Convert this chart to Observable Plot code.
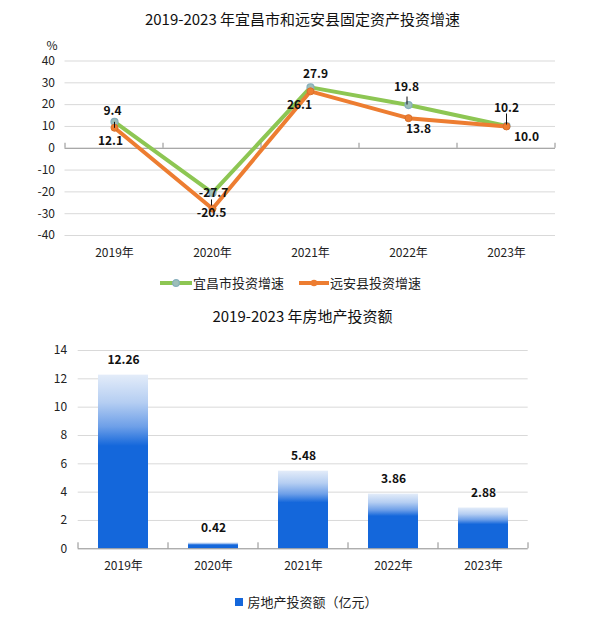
<!DOCTYPE html>
<html><head><meta charset="utf-8">
<script src="https://cdn.jsdelivr.net/npm/d3@7"></script>
<script src="https://cdn.jsdelivr.net/npm/@observablehq/plot@0.6"></script>
<style>
body{margin:0;background:#fff;}
#root{position:relative;width:605px;height:628px;font-family:'Noto Sans CJK SC','Noto Sans',sans-serif;color:#222;overflow:hidden;background:#fff}
.title{position:absolute;left:0;width:605px;text-align:center;font-size:15px;line-height:20px;color:#111}
.legend{position:absolute;font-size:13px;line-height:18px;display:flex;align-items:center;color:#222;white-space:nowrap}
.chart{position:absolute;left:0}
</style></head>
<body><div id="root"></div>
<script>
// ---- data ----
const years = ["2019年", "2020年", "2021年", "2022年", "2023年"];
const yichang = [12.1, -20.5, 27.9, 19.8, 10.2];          // 宜昌市投资增速
const yuanan = [9.4, -27.7, 26.1, 13.8, 10.0];            // 远安县投资增速
const yichangLabels = ["9.4", "-27.7", "27.9", "19.8", "10.2"];
const yuananLabels = ["12.1", "-20.5", "26.1", "13.8", "10.0"];
const yTicksTop = [-40, -30, -20, -10, 0, 10, 20, 30, 40];
const realEstate = [12.26, 0.42, 5.48, 3.86, 2.88];       // 房地产投资额（亿元）
const realEstateLabels = ["12.26", "0.42", "5.48", "3.86", "2.88"];
const yTicksBottom = [0, 2, 4, 6, 8, 10, 12, 14];
const topTitle = "2019-2023 年宜昌市和远安县固定资产投资增速";
const bottomTitle = "2019-2023 年房地产投资额";
const seriesNames = ["宜昌市投资增速", "远安县投资增速"];
const barName = "房地产投资额（亿元）";

const green = "#8dc653", orange = "#ed7d31", blue = "#1467db";
const font = "'Noto Sans CJK SC','Noto Sans',sans-serif";
const root = document.getElementById("root");

function addDiv(cls, text, css) {
  const d = document.createElement("div");
  d.className = cls; if (text) d.textContent = text;
  Object.assign(d.style, css); root.appendChild(d); return d;
}

function addBoundaryTicks(chart, len) {
  const sx = chart.scale("x"), sy = chart.scale("y");
  const dom = sx.domain; const bw = sx.bandwidth || 0;
  const centers = dom.map(d => sx.apply(d) + bw / 2);
  const step = centers[1] - centers[0];
  const bounds = [centers[0] - step / 2, ...centers.map(c => c + step / 2)];
  const y0 = sy.apply(0);
  d3.select(chart).append("g").attr("stroke", "#8c8c8c").attr("stroke-width", 1)
    .selectAll("line").data(bounds).join("line")
    .attr("x1", d => d).attr("x2", d => d).attr("y1", y0).attr("y2", y0 - len);
}

// ---- top chart ----
addDiv("title", topTitle, {top: "9px"});
const topRows = years.map((y, i) => ({year: y, yc: yichang[i], ya: yuanan[i], lc: yichangLabels[i], la: yuananLabels[i]}));
const gOff = [[-2, -11], [1, 0], [5, -13], [-2, -18], [0, -18]];
const oOff = [[-4, 13], [-1, 4], [-11, 14], [10, 11], [20, 11]];
const leader = [[0, 3, 3], [-1, 9.5, 3], [-1.5, -4.5, 4], [0, -7, 5.5]]; // dx, dy, half length (styling)
const leaderIdx = [0, 1, 3, 4];
const vline = {draw(ctx, size) { const r = Math.sqrt(size / Math.PI); ctx.moveTo(0, -r); ctx.lineTo(0, r); }};

const topChart = Plot.plot({
  width: 605, height: 232,
  marginTop: 30.5, marginBottom: 27, marginLeft: 64.5, marginRight: 50,
  style: {fontFamily: font, fontSize: "12px", color: "#222", background: "transparent", overflow: "visible"},
  x: {type: "band", domain: years, padding: 0, label: null, tickSize: 0, tickPadding: 13},
  y: {domain: [-40, 40], ticks: yTicksTop, tickFormat: d => String(d), label: null, tickSize: 0, tickPadding: 10},
  marks: [
    Plot.ruleY(yTicksTop.filter(v => v !== 0), {stroke: "#d9d9d9"}),
    Plot.ruleY([0], {stroke: "#8c8c8c"}),
    Plot.text(["%"], {text: d => d, frameAnchor: "top-left", dx: -18.5, dy: -20, fill: "#222"}),
    Plot.line(topRows, {x: "year", y: "yc", stroke: green, strokeWidth: 4}),
    Plot.dot(topRows, {x: "year", y: "yc", r: 3.5, fill: "#9dbfb8", stroke: "#86aebc", strokeWidth: 1.2}),
    Plot.line(topRows, {x: "year", y: "ya", stroke: orange, strokeWidth: 4}),
    Plot.dot(topRows, {x: "year", y: "ya", r: 3.5, fill: orange, stroke: "#d9702b", strokeWidth: 1}),
    ...leaderIdx.map((k, j) => Plot.dot([topRows[k]], {x: "year", y: "yc", symbol: vline, r: leader[j][2],
      dx: leader[j][0], dy: leader[j][1], stroke: "#111", strokeWidth: 1, fill: "none"})),
    ...topRows.map((d, i) => Plot.text([d], {x: "year", y: "yc", text: "lc", dx: gOff[i][0], dy: gOff[i][1],
      fontWeight: "bold", fontSize: 12, fill: "#111"})),
    ...topRows.map((d, i) => Plot.text([d], {x: "year", y: "ya", text: "la", dx: oOff[i][0], dy: oOff[i][1],
      fontWeight: "bold", fontSize: 12, fill: "#111"}))
  ]
});
topChart.classList.add("chart");
topChart.style.top = "30px";
root.appendChild(topChart);
addBoundaryTicks(topChart, 5);

// top legend
const lg1 = addDiv("legend", null, {top: "274px", left: "160px"});
lg1.innerHTML =
  `<svg width="32" height="10" style="margin-right:1px"><line x1="0" x2="32" y1="5" y2="5" stroke="${green}" stroke-width="4"/><circle cx="16" cy="5" r="3.3" fill="#9dbfb8" stroke="#86aebc" stroke-width="1.2"/></svg>` +
  `<span>${seriesNames[0]}</span>` +
  `<svg width="30" height="10" style="margin-left:15px;margin-right:1px"><line x1="0" x2="30" y1="5" y2="5" stroke="${orange}" stroke-width="4"/><circle cx="15" cy="5" r="3.3" fill="${orange}"/></svg>` +
  `<span>${seriesNames[1]}</span>`;

// ---- bottom chart ----
addDiv("title", bottomTitle, {top: "306px"});
const barRows = years.map((y, i) => ({year: y, value: realEstate[i], label: realEstateLabels[i]}));
const gradDefs = () => {
  const defs = d3.create("svg:defs");
  const lg = defs.append("linearGradient").attr("id", "barGrad")
    .attr("x1", 0).attr("y1", 0).attr("x2", 0).attr("y2", 1);
  [[0, "#e3ecf9"], [0.16, "#b5cef2"], [0.3, "#6d9fe8"], [0.41, blue], [1, blue]]
    .forEach(([o, c]) => lg.append("stop").attr("offset", o).attr("stop-color", c));
  return defs.node();
};
const bottomChart = Plot.plot({
  width: 605, height: 248,
  marginTop: 20, marginBottom: 29.7, marginLeft: 77.7, marginRight: 77.3,
  style: {fontFamily: font, fontSize: "12px", color: "#222", background: "transparent", overflow: "visible"},
  x: {type: "band", domain: years, paddingInner: 0.444, paddingOuter: 0.222, label: null, tickSize: 0, tickPadding: 13},
  y: {domain: [0, 14], ticks: yTicksBottom, tickFormat: d => String(d), label: null, tickSize: 0, tickPadding: 11},
  marks: [
    gradDefs,
    Plot.ruleY(yTicksBottom.filter(v => v > 0), {stroke: "#d9d9d9"}),
    Plot.barY(barRows, {x: "year", y: "value", fill: "url(#barGrad)"}),
    Plot.ruleY([0], {stroke: "#8c8c8c"}),
    Plot.text(barRows, {x: "year", y: "value", text: "label", dy: -15, fontWeight: "bold", fontSize: 12, fill: "#111"})
  ]
});
bottomChart.classList.add("chart");
bottomChart.style.top = "330px";
root.appendChild(bottomChart);
addBoundaryTicks(bottomChart, 6);

// bottom legend
const lg2 = addDiv("legend", null, {top: "593px", left: "235px"});
lg2.innerHTML = `<svg width="8" height="8" style="margin-right:4.5px"><rect width="8" height="8" fill="${blue}"/></svg><span>${barName}</span>`;
</script>
</body></html>
